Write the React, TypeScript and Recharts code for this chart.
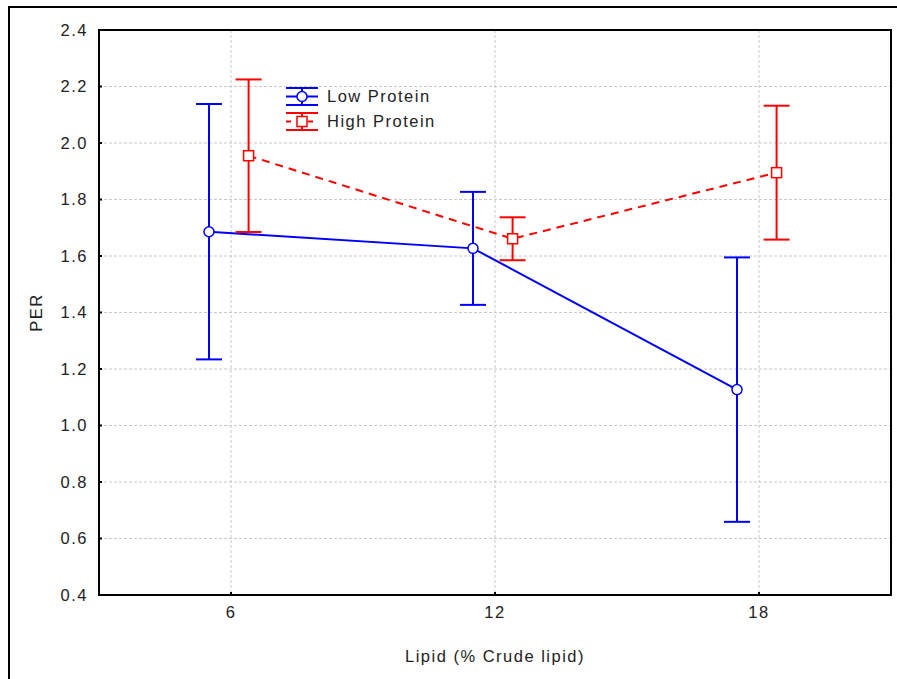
import {
  ComposedChart,
  Line,
  XAxis,
  YAxis,
  CartesianGrid,
  ErrorBar,
  Legend,
  ReferenceArea,
} from 'recharts'

// lipid levels (% crude lipid) and PER means with +/- error
const lipidLevels = [6, 12, 18]
const lowProteinMean = [1.686, 1.627, 1.127]
const lowProteinErr = [0.452, 0.2, 0.468]
const highProteinMean = [1.955, 1.661, 1.895]
const highProteinErr = [0.27, 0.076, 0.237]
const yTicks = [0.4, 0.6, 0.8, 1.0, 1.2, 1.4, 1.6, 1.8, 2.0, 2.2, 2.4]

// horizontal dodge so the two groups don't overlap
const LOW_SHIFT = -0.5
const HIGH_SHIFT = 0.4

const lowData = lipidLevels.map((l, i) => ({
  x: l + LOW_SHIFT,
  y: lowProteinMean[i],
  err: lowProteinErr[i],
}))
const highData = lipidLevels.map((l, i) => ({
  x: l + HIGH_SHIFT,
  y: highProteinMean[i],
  err: highProteinErr[i],
}))

const BLUE = '#0000ff'
const RED = '#ff0000'
const FONT = '"Liberation Sans", Arial, sans-serif'
const FS = 16.5
const LS = 1.5

const CircleDot = (props: any) => {
  const { cx, cy } = props
  if (cx == null || cy == null) return null
  return <circle cx={cx} cy={cy} r={5} fill="#fff" stroke={BLUE} strokeWidth={1.5} />
}

const SquareDot = (props: any) => {
  const { cx, cy } = props
  if (cx == null || cy == null) return null
  return <rect x={cx - 5} y={cy - 5} width={10} height={10} fill="#fff" stroke={RED} strokeWidth={1.5} />
}

function LegendIcon({ color, square }: { color: string; square?: boolean }) {
  return (
    <svg width={34} height={25} style={{ display: 'block' }}>
      <line x1={1} x2={33} y1={4} y2={4} stroke={color} strokeWidth={2} />
      <line x1={1} x2={33} y1={21} y2={21} stroke={color} strokeWidth={2} />
      <line x1={17} x2={17} y1={4} y2={21} stroke={color} strokeWidth={2} />
      <line
        x1={1}
        x2={33}
        y1={12.5}
        y2={12.5}
        stroke={color}
        strokeWidth={2}
        strokeDasharray={square ? '5 6' : undefined}
      />
      {square ? (
        <rect x={12} y={7.5} width={10} height={10} fill="#fff" stroke={color} strokeWidth={1.5} />
      ) : (
        <circle cx={17} cy={12.5} r={5} fill="#fff" stroke={color} strokeWidth={1.5} />
      )}
    </svg>
  )
}

function renderLegend() {
  const rows = [
    { name: 'Low Protein', color: BLUE, square: false },
    { name: 'High Protein', color: RED, square: true },
  ]
  return (
    <div style={{ fontFamily: FONT, fontSize: FS, letterSpacing: LS, color: '#222' }}>
      {rows.map((r) => (
        <div key={r.name} style={{ display: 'flex', alignItems: 'center', height: 25 }}>
          <LegendIcon color={r.color} square={r.square} />
          <span style={{ marginLeft: 8 }}>{r.name}</span>
        </div>
      ))}
    </div>
  )
}

const PerLabel = (props: any) => {
  const vb = props.viewBox || {}
  const cx = 36
  const cy = (vb.y ?? 30) + (vb.height ?? 565) / 2
  return (
    <text
      x={cx}
      y={cy}
      transform={`rotate(-90 ${cx} ${cy})`}
      textAnchor="middle"
      dominantBaseline="central"
      fontFamily={FONT}
      fontSize={FS}
      letterSpacing={LS}
      fill="#222"
    >
      PER
    </text>
  )
}

export default function App() {
  const tickStyle = { fill: '#222', fontSize: FS, fontFamily: FONT, letterSpacing: LS }
  return (
    <div style={{ position: 'absolute', left: 0, top: 0, width: 897, height: 679, background: '#fff' }}>
      <div
        style={{
          position: 'absolute',
          left: 8,
          top: 6,
          right: 0,
          bottom: 0,
          borderLeft: '2px solid #000',
          borderTop: '2px solid #000',
        }}
      />
      <div style={{ position: 'absolute', left: 0, top: 0 }}>
        <ComposedChart width={897} height={679} margin={{ top: 30, right: 6, bottom: 0, left: 0 }}>
          <CartesianGrid stroke="#c8c8c8" strokeDasharray="3 2" />
          <XAxis
            type="number"
            dataKey="x"
            domain={[3, 21]}
            ticks={lipidLevels}
            allowDataOverflow
            height={84}
            tick={tickStyle}
            tickLine={{ stroke: '#000', strokeWidth: 2 }}
            tickSize={-3}
            tickMargin={14}
            axisLine={{ stroke: '#000', strokeWidth: 2 }}
            label={{
              value: 'Lipid (% Crude lipid)',
              position: 'insideBottom',
              offset: 17,
              fill: '#222',
              fontSize: FS,
              fontFamily: FONT,
              letterSpacing: LS,
            }}
          />
          <YAxis
            type="number"
            domain={[0.4, 2.4]}
            ticks={yTicks}
            allowDataOverflow
            width={99}
            tick={tickStyle}
            tickLine={{ stroke: '#000', strokeWidth: 2 }}
            tickSize={-3}
            tickMargin={14}
            tickFormatter={(v: number) => v.toFixed(1)}
            axisLine={{ stroke: '#000', strokeWidth: 2 }}
            label={<PerLabel />}
          />
          <ReferenceArea
            x1={3}
            x2={21}
            y1={0.4}
            y2={2.4}
            fill="none"
            stroke="#000"
            strokeWidth={2}
            ifOverflow="visible"
          />
          <Legend
            content={renderLegend}
            layout="vertical"
            align="center"
            verticalAlign="middle"
            wrapperStyle={{ left: 285, top: 84, width: 'auto' }}
          />
          <Line
            data={lowData}
            dataKey="y"
            name="Low Protein"
            type="linear"
            stroke={BLUE}
            strokeWidth={2}
            dot={<CircleDot />}
            activeDot={false}
            isAnimationActive={false}
          >
            <ErrorBar dataKey="err" width={13} stroke={BLUE} strokeWidth={2} isAnimationActive={false} />
          </Line>
          <Line
            data={highData}
            dataKey="y"
            name="High Protein"
            type="linear"
            stroke={RED}
            strokeWidth={2}
            strokeDasharray="8 6"
            dot={<SquareDot />}
            activeDot={false}
            isAnimationActive={false}
          >
            <ErrorBar dataKey="err" width={13} stroke={RED} strokeWidth={2} isAnimationActive={false} />
          </Line>
        </ComposedChart>
      </div>
    </div>
  )
}
